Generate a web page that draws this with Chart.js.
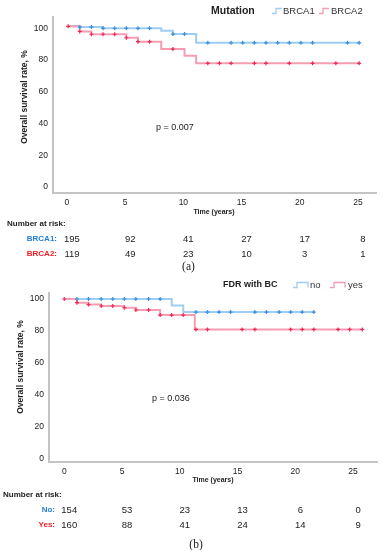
<!DOCTYPE html>
<html lang="en">
<head>
<meta charset="UTF-8" />
<title>Overall survival rate</title>
<script src="https://cdn.jsdelivr.net/npm/chart.js"></script>
<style>
   body { margin: 0; background: #fff; }
   #wrap { position: relative; width: 383px; height: 550px; }
   .panel { position: absolute; left: 0; width: 383px; height: 275px; }
</style>
</head>
<body>
<div id="wrap">
   <div class="panel" style="top:0"><canvas id="chart_a"></canvas></div>
   <div class="panel" style="top:275px"><canvas id="chart_b"></canvas></div>
</div>
<script>
   // ticks
   var x_ticks = [0, 5, 10, 15, 20, 25];
   var y_ticks = [0, 20, 40, 60, 80, 100];
   var risk_times = [0, 5, 10, 15, 20, 25];

   // (a) mutation - step points (time in years, survival %)
   var time_brca1 = [0.1, 1.1, 3.1, 8.1, 9.1, 11.1, 25.2];
   var surv_brca1 = [100, 99.5, 98.7, 97.2, 95.1, 89.6, 89.6];
   var cens_brca1 = [1.1, 2.1, 3.1, 4.1, 5.1, 6.1, 7.1, 9.1, 10.1, 12.1, 14.1, 15.1, 16.1, 17.1, 18.1, 19.1, 20.1, 21.1, 24.1, 25.1];
   var time_brca2 = [0.1, 1.1, 2.1, 5.1, 6.1, 8.1, 10.1, 11.1, 25.2];
   var surv_brca2 = [100, 96.8, 95.0, 92.8, 90.3, 85.7, 81.5, 76.7, 76.7];
   var cens_brca2 = [0.1, 1.1, 2.1, 3.1, 4.1, 5.1, 6.1, 7.1, 9.1, 12.1, 13.1, 14.1, 16.1, 17.1, 19.1, 21.1, 23.1, 25.1];
   var risk_brca1 = [195, 92, 41, 27, 17, 8];
   var risk_brca2 = [119, 49, 23, 10, 3, 1];

   // (b) FDR with BC
   var time_no = [0, 9.3, 10.3, 21.6];
   var surv_no = [100, 96.0, 91.8, 91.8];
   var cens_no = [1.1, 2.1, 3.2, 4.2, 5.2, 6.2, 7.3, 8.3, 11.4, 12.4, 13.4, 14.4, 16.5, 17.5, 18.6, 19.6, 20.6, 21.6];
   var time_yes = [0, 1.1, 2.1, 3.2, 5.2, 6.2, 8.3, 11.3, 25.8];
   var surv_yes = [100, 97.7, 96.5, 95.6, 94.5, 93.1, 89.9, 80.9, 80.9];
   var cens_yes = [0, 1.1, 2.1, 3.2, 4.2, 5.2, 6.2, 7.3, 8.3, 9.3, 10.3, 11.4, 12.4, 15.4, 16.5, 19.6, 20.6, 21.6, 23.7, 24.7, 25.8];
   var risk_no = [154, 53, 23, 13, 6, 0];
   var risk_yes = [160, 88, 41, 24, 14, 9];

   var blue_line = "#9dcdf3", blue_mark = "#3b8fdc", blue_text = "#1f7fd6";
   var red_line = "#f59db3", red_mark = "#ec2a56", red_text = "#f01e22";
   var sans = "'Liberation Sans', Arial, sans-serif";

   // value of the step curve at time t
   function surv_at(times, surv, t) {
      var s = surv[0];
      for (var i = 0; i < times.length; i++) {
         if (times[i] <= t + 1e-9) s = surv[i];
      }
      return s;
   }

   function points(times, surv) {
      return times.map(function (t, i) { return { x: t, y: surv[i] }; });
   }

   function marks(cens, times, surv) {
      return cens.map(function (t) { return { x: t, y: surv_at(times, surv, t) }; });
   }

   function step_icon(ctx, x, y, w, closed) {
      ctx.beginPath();
      ctx.moveTo(x, y + 2.5);
      ctx.lineTo(x + 4, y + 2.5);
      ctx.lineTo(x + 4, y - 2.5);
      ctx.lineTo(x + w, y - 2.5);
      if (closed) ctx.lineTo(x + w, y + 2.5);
      ctx.stroke();
   }

   function make_chart(id, p) {
      var overlay = {
         id: "overlay_" + id,
         afterDraw: function (chart) {
            var ctx = chart.ctx;
            var xs = chart.scales.x;
            ctx.save();
            ctx.fillStyle = "#222";
            ctx.textBaseline = "middle";

            // y title
            ctx.save();
            ctx.translate(p.ytitle[0], p.ytitle[1]);
            ctx.rotate(-Math.PI / 2);
            ctx.textAlign = "center";
            ctx.font = "bold 8.5px " + sans;
            ctx.fillText("Overall survival rate, %", 0, 0);
            ctx.restore();

            // x title
            ctx.textAlign = "center";
            ctx.font = "bold 7px " + sans;
            ctx.fillText("Time (years)", p.xtitle[0], p.xtitle[1]);

            // legend
            ctx.textAlign = "left";
            ctx.font = p.leg_font;
            ctx.fillText(p.leg_title, p.leg[0], p.leg[1]);
            ctx.font = "9.5px " + sans;
            ctx.fillStyle = "#333";
            ctx.lineWidth = 1.3;
            ctx.strokeStyle = blue_line;
            step_icon(ctx, p.leg[2], p.leg[1], p.leg_w, p.leg_closed);
            ctx.fillText(p.names[0], p.leg[3], p.leg[1]);
            ctx.strokeStyle = red_line;
            step_icon(ctx, p.leg[4], p.leg[1], p.leg_w, p.leg_closed);
            ctx.fillText(p.names[1], p.leg[5], p.leg[1]);

            // p value
            ctx.fillStyle = "#222";
            ctx.font = "9px " + sans;
            ctx.fillText(p.pval, p.ppos[0], p.ppos[1]);

            // number at risk
            ctx.font = "bold 8px " + sans;
            ctx.fillText("Number at risk:", p.nar[0], p.nar[1]);
            ctx.textAlign = "right";
            ctx.fillStyle = blue_text;
            ctx.fillText(p.row_names[0], p.nar[2], p.nar[3]);
            ctx.fillStyle = red_text;
            ctx.fillText(p.row_names[1], p.nar[2], p.nar[4]);
            ctx.textAlign = "center";
            ctx.fillStyle = "#222";
            ctx.font = "9.5px " + sans;
            for (var i = 0; i < risk_times.length; i++) {
               var px = xs.getPixelForValue(risk_times[i]) + 5;
               ctx.fillText(String(p.risk[0][i]), px, p.nar[3]);
               ctx.fillText(String(p.risk[1][i]), px, p.nar[4]);
            }

            // panel caption
            ctx.font = "11.5px 'Liberation Serif', 'Times New Roman', serif";
            ctx.fillText(p.caption, p.cap[0], p.cap[1]);
            ctx.restore();
         },
      };

      return new Chart(document.getElementById(id), {
         type: "line",
         data: {
            datasets: [
               { data: marks(p.cens[0], p.times[0], p.surv[0]), showLine: false, pointStyle: "cross", pointRadius: 2, borderWidth: 1.2, borderColor: blue_mark, order: 0 },
               { data: marks(p.cens[1], p.times[1], p.surv[1]), showLine: false, pointStyle: "cross", pointRadius: 2, borderWidth: 1.2, borderColor: red_mark, order: 0 },
               { data: points(p.times[0], p.surv[0]), stepped: true, borderColor: blue_line, borderWidth: 2, pointRadius: 0, fill: false, order: 2 },
               { data: points(p.times[1], p.surv[1]), stepped: true, borderColor: red_line, borderWidth: 2, pointRadius: 0, fill: false, order: 1 },
            ],
         },
         options: {
            responsive: true,
            maintainAspectRatio: false,
            animation: false,
            events: [],
            layout: { padding: p.pad },
            plugins: { legend: { display: false }, tooltip: { enabled: false } },
            scales: {
               x: {
                  type: "linear",
                  min: p.xr[0],
                  max: p.xr[1],
                  grid: { display: false, drawTicks: false },
                  border: { display: true, color: "#c4c4c4", width: 2 },
                  ticks: { font: { size: 8.5, family: sans }, color: "#222", padding: 5 },
                  afterBuildTicks: function (s) { s.ticks = x_ticks.map(function (v) { return { value: v }; }); },
                  afterFit: function (s) { s.height = 14; },
               },
               y: {
                  type: "linear",
                  min: p.yr[0],
                  max: p.yr[1],
                  grid: { display: false, drawTicks: false },
                  border: { display: true, color: "#c4c4c4", width: 2 },
                  ticks: { font: { size: 8.5, family: sans }, color: "#222", padding: 5, labelOffset: p.ylab_off },
                  afterBuildTicks: function (s) { s.ticks = y_ticks.map(function (v) { return { value: v }; }); },
                  afterFit: function (s) { s.width = p.ywidth; },
               },
            },
         },
         plugins: [overlay],
      });
   }

   make_chart("chart_a", {
      times: [time_brca1, time_brca2],
      surv: [surv_brca1, surv_brca2],
      cens: [cens_brca1, cens_brca2],
      risk: [risk_brca1, risk_brca2],
      names: ["BRCA1", "BRCA2"],
      row_names: ["BRCA1:", "BRCA2:"],
      xr: [-1.2, 26.55],
      yr: [-5.04, 105.86],
      ylab_off: 2,
      ywidth: 53,
      pad: { left: 0, top: 17, right: 7, bottom: 68 },
      ytitle: [25, 97],
      xtitle: [214, 212],
      leg_title: "Mutation",
      leg_font: "bold 10.5px " + sans,
      leg: [211, 11, 272, 283, 319, 331],
      leg_w: 10,
      leg_closed: false,
      pval: "p = 0.007",
      ppos: [156, 128],
      nar: [7, 224, 57, 239, 254],
      caption: "(a)",
      cap: [188.5, 267],
   });

   make_chart("chart_b", {
      times: [time_no, time_yes],
      surv: [surv_no, surv_yes],
      cens: [cens_no, cens_yes],
      risk: [risk_no, risk_yes],
      names: ["no", "yes"],
      row_names: ["No:", "Yes:"],
      xr: [-1.32, 27.14],
      yr: [-2.19, 103.76],
      ylab_off: 0,
      ywidth: 49,
      pad: { left: 0, top: 18, right: 5, bottom: 74 },
      ytitle: [21, 92],
      xtitle: [213, 205],
      leg_title: "FDR with BC",
      leg_font: "bold 9px " + sans,
      leg: [223, 10, 293, 310, 330, 348],
      leg_w: 15,
      leg_closed: true,
      pval: "p = 0.036",
      ppos: [152, 124],
      nar: [3, 220, 55, 235, 250],
      caption: "(b)",
      cap: [196, 270],
   });
</script>
</body>
</html>
